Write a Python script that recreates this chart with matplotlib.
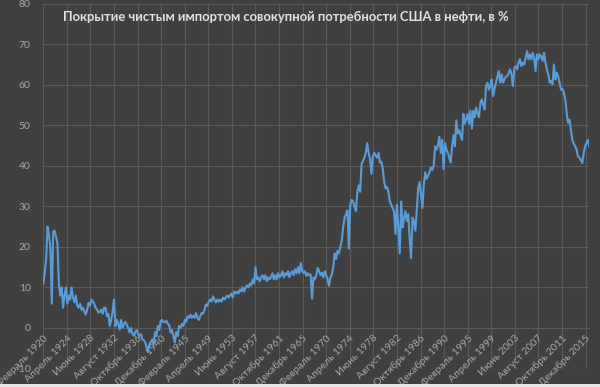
import matplotlib
matplotlib.use("Agg")
import matplotlib.pyplot as plt
from matplotlib.patches import Rectangle

# Quarterly readings (Feb, May, Aug, Nov) of net-import share, %, from Feb 1920
share_pct = [
    11, 13.5, 17, 25,
    23, 20, 6, 23.8,
    24, 22.5, 21, 11,
    8, 10, 5, 8,
    10, 6, 8, 7,
    10, 7.5, 6.3, 8,
    5.5, 5, 6, 4.5,
    5, 4, 3.3, 4.5,
    6.2, 5.5, 7, 6.5,
    6, 5, 4.5, 3.8,
    4, 4.5, 3.5, 5,
    5, 2.9, 3.5, 0.5,
    2, 4, 7, 0.5,
    2, 1, -0.4, 2,
    0, 1, 1.5, 0.8,
    0, -1.1, 0, -1.5,
    -1.9, -1, -0.5, -1.5,
    -2, -1.5, -2.8, -3,
    -3.5, -4.8, -6, -4,
    -3.5, -2.8, -4, -1,
    -2, 0.5, -0.5, 1.7,
    2, 1.4, 1.5, 1.8,
    1, 0.7, -1.2, -0.5,
    -2, -3.6, -1, -2,
    0.5, 0, 1, 0.5,
    2, 1.5, 2.9, 2.5,
    3.3, 2.5, 3, 2.5,
    3.7, 2.5, 2, 3,
    3.7, 3.5, 4.5, 5.8,
    5.5, 6.5, 7, 6.5,
    7.8, 7, 6.3, 7,
    6.5, 7, 6.5, 7.5,
    7, 7.5, 8, 7.5,
    8, 8.5, 7.5, 9,
    8.5, 9, 8.5, 9.5,
    9, 10, 9, 10,
    10.5, 10, 11, 10.5,
    12, 11, 15, 12,
    12.5, 11.5, 12.5, 13,
    12, 13, 11.5, 12.5,
    12, 12.5, 13.5, 12,
    13, 12, 13.5, 12.5,
    13, 14, 12.5, 13.5,
    13, 14, 12.5, 13.5,
    14, 13, 14.5, 13.5,
    15, 13.5, 16, 14,
    13.6, 14, 12.8, 13.5,
    13, 13.2, 7.2, 12.5,
    12, 13, 14.8, 14,
    13, 13.6, 12.5, 14,
    13, 12, 10.4, 12.5,
    13.2, 15, 18.4, 17,
    19, 18.4, 20, 21.6,
    24.8, 27.2, 28, 29,
    19.6, 30.4, 31.6, 31.2,
    30, 28.8, 33.6, 35.2,
    33.6, 40.4, 41.2, 42,
    43.2, 45.6, 43.2, 41.6,
    38, 42.4, 43.2, 42.5,
    42, 43.2, 40.8, 41,
    39.2, 36, 34.4, 34.8,
    33.6, 31.2, 30.4, 29.5,
    28.8, 23.2, 30.4, 24.8,
    18.4, 31.2, 24.8, 27,
    28.8, 26.4, 28, 22,
    17.2, 27.2, 26.4, 24,
    28.8, 34.4, 36, 33,
    29.6, 35.2, 38.4, 36.8,
    37.6, 38.4, 39.6, 39,
    40, 44.8, 44, 45,
    47.2, 43.2, 46.4, 39.2,
    45.6, 44, 43.2, 42,
    40.8, 44.8, 47.6, 44.8,
    51.2, 48, 48.8, 47.5,
    46.4, 52.8, 50.4, 51.5,
    52.8, 50.4, 53.6, 49.2,
    53.6, 52, 54.4, 53,
    52, 55.5, 56.4, 55,
    53.9, 59.7, 60.5, 58.8,
    59.7, 61.3, 57.2, 59,
    60.5, 62.1, 63.4, 60.5,
    62.6, 60.5, 61.3, 62,
    62.1, 63, 63.8, 62.5,
    59.7, 64.2, 64.6, 63.8,
    65.5, 66.3, 64.6, 65.5,
    65, 66.7, 68.3, 66.3,
    67.5, 66.3, 67.9, 66.5,
    63.4, 67.5, 66.3, 67.5,
    67, 65.9, 67.9, 65.5,
    63.8, 62.6, 60.5, 61,
    60.1, 65, 61.3, 63,
    62.1, 60.5, 58.8, 59,
    58, 56.4, 53, 50.6,
    51.4, 48.9, 46.4, 45.5,
    44.8, 44, 42.3, 42,
    41.5, 40.7, 43.1, 44.8,
    45.6, 46.4, 44.8,
]
months_per_step = 3
month_index = [i * months_per_step for i in range(len(share_pct))]

tick_labels = [
    "Февраль 1920", "Апрель 1924", "Июнь 1928", "Август 1932",
    "Октябрь 1936", "Декабрь 1940", "Февраль 1945", "Апрель 1949",
    "Июнь 1953", "Август 1957", "Октябрь 1961", "Декабрь 1965",
    "Февраль 1970", "Апрель 1974", "Июнь 1978", "Август 1982",
    "Октябрь 1986", "Декабрь 1990", "Февраль 1995", "Апрель 1999",
    "Июнь 2003", "Август 2007", "Октябрь 2011", "Декабрь 2015",
]
label_step = 50
y_ticks = list(range(-10, 81, 10))
title = "Покрытие чистым импортом совокупной потребности США в нефти, в %"

BG = "#404040"
GRID = "#5a5a5a"
TXT = "#a6a6a6"
LINE = "#5B9BD5"

W, H = 600, 387
fig = plt.figure(figsize=(6, 3.87), dpi=100, facecolor=BG)
left, right, top, bottom = 43.3, 589.3, 3.7, 368.5
ax = fig.add_axes([left / W, 1 - bottom / H, (right - left) / W, (bottom - top) / H])
ax.set_facecolor(BG)

for s in ["top", "right", "left"]:
    ax.spines[s].set_visible(False)
ax.spines["bottom"].set_position(("data", 0))
ax.spines["bottom"].set_color(GRID)
ax.spines["bottom"].set_linewidth(0.8)

ax.plot(month_index, share_pct, color=LINE, lw=1.5, zorder=3)

ax.set_xlim(0, 1158)
ax.set_ylim(-10, 80)
ax.set_yticks(y_ticks)
ax.set_yticklabels([str(v) for v in y_ticks])
ax.set_xticks([i * label_step for i in range(len(tick_labels))])
ax.set_xticklabels(tick_labels)

ax.grid(True, color=GRID, linewidth=0.8, zorder=0)
ax.set_axisbelow(True)
ax.tick_params(axis="both", length=0, labelcolor=TXT)
ax.tick_params(axis="y", pad=9, labelsize=7.5)
ax.tick_params(axis="x", pad=4, labelsize=7.5)
for lab in ax.get_yticklabels():
    lab.set_family("Lato")
for lab in ax.get_xticklabels():
    lab.set_family("Lato")
    lab.set_rotation(45)
    lab.set_ha("right")
    lab.set_va("top")
    lab.set_rotation_mode("anchor")

fig.text(63 / W, 1 - 16.5 / H, title, fontsize=9.4, fontweight="bold",
         color="#e0e0e0", ha="left", va="center", family="Lato")

# spreadsheet strip at the very bottom
fig.patches.append(Rectangle((0, 0), 1, 3.5 / H, transform=fig.transFigure,
                             facecolor="#e6e6e6", edgecolor="none"))

fig.savefig("out.png", dpi=100, facecolor=BG)
